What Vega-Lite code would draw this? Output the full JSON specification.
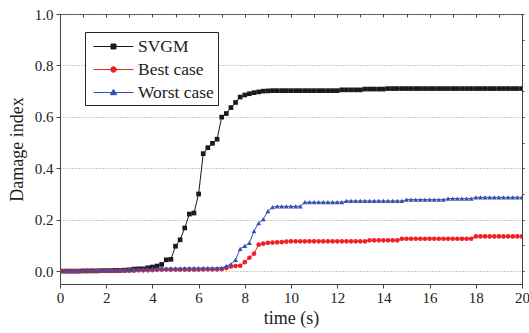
{
  "$schema": "https://vega.github.io/schema/vega-lite/v6.json",
  "width": 462,
  "height": 270,
  "autosize": {"type": "none"},
  "padding": {"left": 60, "top": 14, "right": 7, "bottom": 49},
  "background": "white",
  "config": {
    "font": "Liberation Serif",
    "view": {"stroke": "#444", "strokeWidth": 1},
    "axis": {
      "labelFont": "Liberation Serif",
      "titleFont": "Liberation Serif",
      "labelFontSize": 15,
      "titleFontSize": 18,
      "titleFontWeight": "normal",
      "labelColor": "#222",
      "titleColor": "#222",
      "domainColor": "#444",
      "tickColor": "#444"
    },
    "legend": {"labelFont": "Liberation Serif"}
  },
  "data": {
    "values": [
      {"t": 0.0, "SVGM": 0, "Best case": 0, "Worst case": 0.002},
      {"t": 0.2, "SVGM": 0, "Best case": 0, "Worst case": 0.002},
      {"t": 0.4, "SVGM": 0, "Best case": 0, "Worst case": 0.002},
      {"t": 0.6, "SVGM": 0, "Best case": 0, "Worst case": 0.002},
      {"t": 0.8, "SVGM": 0, "Best case": 0, "Worst case": 0.002},
      {"t": 1.0, "SVGM": 0.001, "Best case": 0, "Worst case": 0.003},
      {"t": 1.2, "SVGM": 0.001, "Best case": 0, "Worst case": 0.003},
      {"t": 1.4, "SVGM": 0.001, "Best case": 0.001, "Worst case": 0.003},
      {"t": 1.6, "SVGM": 0.001, "Best case": 0.001, "Worst case": 0.003},
      {"t": 1.8, "SVGM": 0.002, "Best case": 0.001, "Worst case": 0.003},
      {"t": 2.0, "SVGM": 0.002, "Best case": 0.001, "Worst case": 0.004},
      {"t": 2.2, "SVGM": 0.002, "Best case": 0.001, "Worst case": 0.004},
      {"t": 2.4, "SVGM": 0.003, "Best case": 0.001, "Worst case": 0.004},
      {"t": 2.6, "SVGM": 0.003, "Best case": 0.002, "Worst case": 0.004},
      {"t": 2.8, "SVGM": 0.004, "Best case": 0.002, "Worst case": 0.005},
      {"t": 3.0, "SVGM": 0.005, "Best case": 0.002, "Worst case": 0.005},
      {"t": 3.2, "SVGM": 0.008, "Best case": 0.002, "Worst case": 0.008},
      {"t": 3.4, "SVGM": 0.009, "Best case": 0.003, "Worst case": 0.009},
      {"t": 3.6, "SVGM": 0.009, "Best case": 0.003, "Worst case": 0.009},
      {"t": 3.8, "SVGM": 0.013, "Best case": 0.003, "Worst case": 0.01},
      {"t": 4.0, "SVGM": 0.016, "Best case": 0.004, "Worst case": 0.01},
      {"t": 4.2, "SVGM": 0.02, "Best case": 0.005, "Worst case": 0.01},
      {"t": 4.4, "SVGM": 0.026, "Best case": 0.006, "Worst case": 0.011},
      {"t": 4.6, "SVGM": 0.044, "Best case": 0.006, "Worst case": 0.011},
      {"t": 4.8, "SVGM": 0.046, "Best case": 0.006, "Worst case": 0.011},
      {"t": 5.0, "SVGM": 0.097, "Best case": 0.006, "Worst case": 0.011},
      {"t": 5.2, "SVGM": 0.122, "Best case": 0.006, "Worst case": 0.011},
      {"t": 5.4, "SVGM": 0.168, "Best case": 0.006, "Worst case": 0.012},
      {"t": 5.6, "SVGM": 0.222, "Best case": 0.006, "Worst case": 0.012},
      {"t": 5.8, "SVGM": 0.226, "Best case": 0.006, "Worst case": 0.012},
      {"t": 6.0, "SVGM": 0.3, "Best case": 0.006, "Worst case": 0.012},
      {"t": 6.2, "SVGM": 0.457, "Best case": 0.007, "Worst case": 0.012},
      {"t": 6.4, "SVGM": 0.48, "Best case": 0.007, "Worst case": 0.012},
      {"t": 6.6, "SVGM": 0.497, "Best case": 0.007, "Worst case": 0.012},
      {"t": 6.8, "SVGM": 0.513, "Best case": 0.007, "Worst case": 0.012},
      {"t": 7.0, "SVGM": 0.599, "Best case": 0.008, "Worst case": 0.013},
      {"t": 7.2, "SVGM": 0.613, "Best case": 0.012, "Worst case": 0.02},
      {"t": 7.4, "SVGM": 0.636, "Best case": 0.018, "Worst case": 0.027},
      {"t": 7.6, "SVGM": 0.656, "Best case": 0.02, "Worst case": 0.044},
      {"t": 7.8, "SVGM": 0.677, "Best case": 0.021, "Worst case": 0.087},
      {"t": 8.0, "SVGM": 0.685, "Best case": 0.035, "Worst case": 0.098},
      {"t": 8.2, "SVGM": 0.69, "Best case": 0.052, "Worst case": 0.11},
      {"t": 8.4, "SVGM": 0.694, "Best case": 0.068, "Worst case": 0.156},
      {"t": 8.6, "SVGM": 0.697, "Best case": 0.103, "Worst case": 0.187},
      {"t": 8.8, "SVGM": 0.7, "Best case": 0.107, "Worst case": 0.202},
      {"t": 9.0, "SVGM": 0.701, "Best case": 0.11, "Worst case": 0.233},
      {"t": 9.2, "SVGM": 0.702, "Best case": 0.111, "Worst case": 0.249},
      {"t": 9.4, "SVGM": 0.702, "Best case": 0.112, "Worst case": 0.252},
      {"t": 9.6, "SVGM": 0.702, "Best case": 0.113, "Worst case": 0.252},
      {"t": 9.8, "SVGM": 0.702, "Best case": 0.115, "Worst case": 0.252},
      {"t": 10.0, "SVGM": 0.702, "Best case": 0.116, "Worst case": 0.252},
      {"t": 10.2, "SVGM": 0.702, "Best case": 0.116, "Worst case": 0.252},
      {"t": 10.4, "SVGM": 0.702, "Best case": 0.116, "Worst case": 0.252},
      {"t": 10.6, "SVGM": 0.702, "Best case": 0.116, "Worst case": 0.268},
      {"t": 10.8, "SVGM": 0.702, "Best case": 0.116, "Worst case": 0.268},
      {"t": 11.0, "SVGM": 0.702, "Best case": 0.116, "Worst case": 0.268},
      {"t": 11.2, "SVGM": 0.702, "Best case": 0.116, "Worst case": 0.268},
      {"t": 11.4, "SVGM": 0.702, "Best case": 0.116, "Worst case": 0.268},
      {"t": 11.6, "SVGM": 0.702, "Best case": 0.116, "Worst case": 0.268},
      {"t": 11.8, "SVGM": 0.702, "Best case": 0.116, "Worst case": 0.268},
      {"t": 12.0, "SVGM": 0.702, "Best case": 0.116, "Worst case": 0.268},
      {"t": 12.2, "SVGM": 0.705, "Best case": 0.116, "Worst case": 0.268},
      {"t": 12.4, "SVGM": 0.705, "Best case": 0.116, "Worst case": 0.273},
      {"t": 12.6, "SVGM": 0.705, "Best case": 0.116, "Worst case": 0.273},
      {"t": 12.8, "SVGM": 0.705, "Best case": 0.116, "Worst case": 0.273},
      {"t": 13.0, "SVGM": 0.705, "Best case": 0.116, "Worst case": 0.273},
      {"t": 13.2, "SVGM": 0.708, "Best case": 0.116, "Worst case": 0.273},
      {"t": 13.4, "SVGM": 0.708, "Best case": 0.12, "Worst case": 0.273},
      {"t": 13.6, "SVGM": 0.708, "Best case": 0.12, "Worst case": 0.273},
      {"t": 13.8, "SVGM": 0.708, "Best case": 0.12, "Worst case": 0.273},
      {"t": 14.0, "SVGM": 0.708, "Best case": 0.12, "Worst case": 0.273},
      {"t": 14.2, "SVGM": 0.71, "Best case": 0.12, "Worst case": 0.273},
      {"t": 14.4, "SVGM": 0.71, "Best case": 0.12, "Worst case": 0.273},
      {"t": 14.6, "SVGM": 0.71, "Best case": 0.12, "Worst case": 0.273},
      {"t": 14.8, "SVGM": 0.71, "Best case": 0.126, "Worst case": 0.273},
      {"t": 15.0, "SVGM": 0.71, "Best case": 0.126, "Worst case": 0.278},
      {"t": 15.2, "SVGM": 0.71, "Best case": 0.126, "Worst case": 0.278},
      {"t": 15.4, "SVGM": 0.71, "Best case": 0.126, "Worst case": 0.278},
      {"t": 15.6, "SVGM": 0.71, "Best case": 0.126, "Worst case": 0.278},
      {"t": 15.8, "SVGM": 0.71, "Best case": 0.126, "Worst case": 0.278},
      {"t": 16.0, "SVGM": 0.71, "Best case": 0.126, "Worst case": 0.278},
      {"t": 16.2, "SVGM": 0.71, "Best case": 0.126, "Worst case": 0.278},
      {"t": 16.4, "SVGM": 0.71, "Best case": 0.126, "Worst case": 0.278},
      {"t": 16.6, "SVGM": 0.71, "Best case": 0.126, "Worst case": 0.278},
      {"t": 16.8, "SVGM": 0.71, "Best case": 0.126, "Worst case": 0.282},
      {"t": 17.0, "SVGM": 0.71, "Best case": 0.126, "Worst case": 0.282},
      {"t": 17.2, "SVGM": 0.71, "Best case": 0.126, "Worst case": 0.282},
      {"t": 17.4, "SVGM": 0.71, "Best case": 0.126, "Worst case": 0.282},
      {"t": 17.6, "SVGM": 0.71, "Best case": 0.126, "Worst case": 0.282},
      {"t": 17.8, "SVGM": 0.71, "Best case": 0.126, "Worst case": 0.282},
      {"t": 18.0, "SVGM": 0.71, "Best case": 0.135, "Worst case": 0.287},
      {"t": 18.2, "SVGM": 0.71, "Best case": 0.135, "Worst case": 0.287},
      {"t": 18.4, "SVGM": 0.71, "Best case": 0.135, "Worst case": 0.287},
      {"t": 18.6, "SVGM": 0.71, "Best case": 0.135, "Worst case": 0.287},
      {"t": 18.8, "SVGM": 0.71, "Best case": 0.135, "Worst case": 0.287},
      {"t": 19.0, "SVGM": 0.71, "Best case": 0.135, "Worst case": 0.287},
      {"t": 19.2, "SVGM": 0.71, "Best case": 0.135, "Worst case": 0.287},
      {"t": 19.4, "SVGM": 0.71, "Best case": 0.135, "Worst case": 0.287},
      {"t": 19.6, "SVGM": 0.71, "Best case": 0.135, "Worst case": 0.287},
      {"t": 19.8, "SVGM": 0.71, "Best case": 0.135, "Worst case": 0.287},
      {"t": 20.0, "SVGM": 0.71, "Best case": 0.135, "Worst case": 0.287}
    ]
  },
  "transform": [
    {"fold": ["SVGM", "Best case", "Worst case"], "as": ["series", "value"]}
  ],
  "resolve": {"axis": {"x": "independent", "y": "independent"}},
  "layer": [
    {
      "mark": {"type": "line", "strokeWidth": 1, "clip": true},
      "encoding": {
        "x": {
          "field": "t", "type": "quantitative",
          "scale": {"domain": [0, 20], "nice": false, "zero": false},
          "axis": {
            "title": "time (s)",
            "labelFont": "Liberation Serif",
            "titleFont": "Liberation Serif",
            "labelFontSize": 15,
            "titleFontSize": 18,
            "titleFontWeight": "normal",
            "labelColor": "#222",
            "titleColor": "#222",
            "values": [0, 2, 4, 6, 8, 10, 12, 14, 16, 18, 20],
            "tickSize": 4,
            "labelPadding": 2,
            "titlePadding": 4,
            "grid": false,
            "labelFlush": false
          }
        },
        "y": {
          "field": "value", "type": "quantitative",
          "scale": {"domain": [-0.05, 1.0], "nice": false, "zero": false},
          "axis": {
            "title": "Damage index",
            "labelFont": "Liberation Serif",
            "titleFont": "Liberation Serif",
            "labelFontSize": 15,
            "titleFontSize": 18,
            "titleFontWeight": "normal",
            "labelColor": "#222",
            "titleColor": "#222",
            "values": [0, 0.2, 0.4, 0.6, 0.8, 1.0],
            "format": ".1f",
            "tickSize": 4,
            "labelPadding": 3,
            "titlePadding": 8,
            "grid": true,
            "gridDash": [1, 2],
            "gridColor": "#999",
            "labelFlush": false
          }
        },
        "color": {
          "field": "series", "type": "nominal",
          "scale": {"domain": ["SVGM", "Best case", "Worst case"], "range": ["#1a1a1a", "#ee2129", "#3550b0"]},
          "legend": {
            "title": null,
            "orient": "none",
            "legendX": 25,
            "legendY": 18,
            "padding": 4,
            "strokeColor": "#222",
            "fillColor": "white",
            "labelFont": "Liberation Serif",
            "labelFontSize": 17.5,
            "labelColor": "#222",
            "labelOffset": 28,
            "labelLimit": 200,
            "symbolSize": 400,
            "symbolStrokeWidth": 1,
            "rowPadding": 4,
            "encode": {
              "symbols": {
                "update": {
                  "shape": {"signal": "datum.value === 'SVGM' ? 'M-0.6,0H3.4M1.15,-0.25H1.65V0.25H1.15Z' : datum.value === 'Best case' ? 'M-0.6,0H3.4M1.12,0A0.28,0.28,0,1,1,1.68,0A0.28,0.28,0,1,1,1.12,0Z' : 'M-0.6,0H3.4M1.4,-0.32L1.72,0.22L1.08,0.22Z'"},
                  "fill": {"signal": "scale('color', datum.value)"},
                  "stroke": {"signal": "scale('color', datum.value)"}
                }
              }
            }
          }
        }
      }
    },
    {
      "transform": [{"filter": "datum.series === 'SVGM'"}],
      "mark": {"type": "point", "shape": "square", "filled": true, "size": 22, "opacity": 1, "clip": true},
      "encoding": {
        "x": {
          "field": "t", "type": "quantitative",
          "axis": {
            "orient": "top",
            "title": null,
            "labels": false,
            "domain": false,
            "grid": false,
            "values": [0,1,2,3,4,5,6,7,8,9,10,11,12,13,14,15,16,17,18,19,20],
            "tickSize": -3
          }
        },
        "y": {
          "field": "value", "type": "quantitative",
          "axis": {
            "orient": "right",
            "title": null,
            "labels": false,
            "domain": false,
            "grid": false,
            "values": [0, 0.1, 0.2, 0.3, 0.4, 0.5, 0.6, 0.7, 0.8, 0.9, 1.0],
            "tickSize": 2
          }
        },
        "color": {"field": "series", "type": "nominal", "legend": null}
      }
    },
    {
      "transform": [{"filter": "datum.series === 'Best case'"}],
      "mark": {"type": "point", "shape": "circle", "filled": true, "size": 22, "opacity": 1, "clip": true},
      "encoding": {
        "x": {"field": "t", "type": "quantitative", "axis": null},
        "y": {"field": "value", "type": "quantitative", "axis": null},
        "color": {"field": "series", "type": "nominal", "legend": null}
      }
    },
    {
      "transform": [{"filter": "datum.series === 'Worst case'"}],
      "mark": {"type": "point", "shape": "triangle-up", "filled": true, "size": 24, "opacity": 1, "clip": true},
      "encoding": {
        "x": {"field": "t", "type": "quantitative", "axis": null},
        "y": {"field": "value", "type": "quantitative", "axis": null},
        "color": {"field": "series", "type": "nominal", "legend": null}
      }
    }
  ]
}
